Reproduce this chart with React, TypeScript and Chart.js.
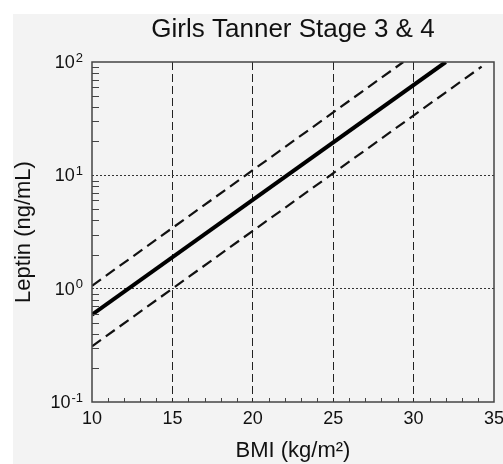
import React, { useEffect, useRef } from 'react';
import { Chart, registerables } from 'chart.js';

Chart.register(...registerables);

const FONT = "'Liberation Sans', Arial, Helvetica, sans-serif";

const TITLE = 'Girls Tanner Stage 3 & 4';
const X_TITLE = 'BMI (kg/m²)';
const Y_TITLE = 'Leptin (ng/mL)';

const xTickValues = [10, 15, 20, 25, 30, 35];
const xGridValues = [15, 20, 25, 30];
const yTickExponents = [-1, 0, 1, 2];
const yGridValues = [1, 10];

const meanBMI = [10, 32.0];
const meanLeptin = [0.59, 100];
const upperBMI = [10, 29.36];
const upperLeptin = [1.06, 100];
const lowerBMI = [10, 34.23];
const lowerLeptin = [0.31, 91];

const toPoints = (xs: number[], ys: number[]) => xs.map((x, i) => ({ x, y: ys[i] }));

const decorPlugin = {
  id: 'decor',
  beforeDraw(chart: any) {
    const { ctx, width, height } = chart;
    ctx.save();
    ctx.fillStyle = '#ffffff';
    ctx.fillRect(0, 0, width, height);
    ctx.fillStyle = '#f3f3f3';
    ctx.fillRect(13, 14, width - 13, height - 14);
    ctx.restore();
  },
  afterDraw(chart: any) {
    const { ctx, chartArea } = chart;
    const { left, right, top, bottom } = chartArea;
    const xs = chart.scales.x;
    const ys = chart.scales.y;
    ctx.save();
    ctx.strokeStyle = '#444';
    ctx.lineWidth = 1;
    for (let k = -1; k <= 1; k++) {
      for (let m = 2; m <= 9; m++) {
        const py = Math.round(ys.getPixelForValue(m * Math.pow(10, k))) + 0.5;
        ctx.beginPath();
        ctx.moveTo(left, py);
        ctx.lineTo(left + 7, py);
        ctx.stroke();
      }
    }
    for (let v = 11; v <= 34; v++) {
      if (v % 5 === 0) continue;
      const px = Math.round(xs.getPixelForValue(v)) + 0.5;
      ctx.beginPath();
      ctx.moveTo(px, bottom);
      ctx.lineTo(px, bottom - 4);
      ctx.stroke();
    }
    ctx.strokeStyle = '#444';
    ctx.lineWidth = 1.5;
    ctx.strokeRect(left, top, right - left, bottom - top);
    ctx.fillStyle = '#111';
    ctx.textBaseline = 'middle';
    const rightEdge = left - 9;
    yTickExponents.forEach((e) => {
      const py = ys.getPixelForValue(Math.pow(10, e));
      const exp = String(e);
      ctx.font = `13px ${FONT}`;
      const ew = ctx.measureText(exp).width;
      ctx.font = `18px ${FONT}`;
      const bw = ctx.measureText('10').width;
      const x0 = rightEdge - ew - bw - 1;
      ctx.textAlign = 'left';
      ctx.fillText('10', x0, py + 1);
      ctx.font = `13px ${FONT}`;
      ctx.fillText(exp, x0 + bw + 1, py - 4);
    });
    ctx.restore();
  },
};

export default function App() {
  const ref = useRef<HTMLCanvasElement | null>(null);

  useEffect(() => {
    document.body.style.margin = '0';
    const canvas = ref.current;
    if (!canvas) return;
    const transparent = 'rgba(0,0,0,0)';
    const chart = new Chart(canvas, {
      type: 'line',
      data: {
        datasets: [
          {
            label: 'Upper',
            data: toPoints(upperBMI, upperLeptin),
            borderColor: '#111',
            borderWidth: 2.2,
            borderDash: [11, 6],
            pointRadius: 0,
            fill: false,
          },
          {
            label: 'Lower',
            data: toPoints(lowerBMI, lowerLeptin),
            borderColor: '#111',
            borderWidth: 2.2,
            borderDash: [11, 6],
            pointRadius: 0,
            fill: false,
          },
          {
            label: 'Mean',
            data: toPoints(meanBMI, meanLeptin),
            borderColor: '#000',
            borderWidth: 4,
            pointRadius: 0,
            fill: false,
          },
        ],
      },
      plugins: [decorPlugin],
      options: {
        animation: false,
        responsive: false,
        devicePixelRatio: 1,
        layout: { padding: { left: 0, right: 9, top: 0, bottom: 0 } },
        plugins: {
          legend: { display: false },
          tooltip: { enabled: false },
          title: {
            display: true,
            text: TITLE,
            fullSize: false,
            color: '#111',
            font: { family: FONT, size: 26, weight: 'normal' },
            padding: { top: 14.4, bottom: 16.4 },
          },
        },
        scales: {
          x: {
            type: 'linear',
            min: 10,
            max: 35,
            afterBuildTicks: (s: any) => {
              s.ticks = xTickValues.map((v) => ({ value: v }));
            },
            ticks: {
              color: '#111',
              font: { family: FONT, size: 18 },
              padding: 6.7,
              maxRotation: 0,
              autoSkip: false,
              callback: (v: any) => String(v),
            },
            grid: {
              color: (c: any) => (c.tick && xGridValues.includes(c.tick.value) ? '#222' : transparent),
              lineWidth: 1,
              drawTicks: false,
            },
            border: { display: false, dash: [8, 4] },
            title: {
              display: true,
              text: X_TITLE,
              color: '#111',
              font: { family: FONT, size: 22 },
              padding: { top: 0, bottom: 0 },
            },
            afterFit: (s: any) => {
              s.height = 62;
              s.paddingLeft = 0;
              s.paddingRight = 0;
            },
          },
          y: {
            type: 'logarithmic',
            min: 0.1,
            max: 100,
            ticks: { display: false },
            grid: {
              color: (c: any) =>
                c.tick && yGridValues.some((g) => Math.abs(c.tick.value - g) < 1e-6) ? '#333' : transparent,
              lineWidth: 1,
              drawTicks: false,
            },
            border: { display: false, dash: [2, 2] },
            title: {
              display: true,
              text: Y_TITLE,
              color: '#111',
              font: { family: FONT, size: 22 },
              padding: { top: 10.8, bottom: 0 },
            },
            afterFit: (s: any) => {
              s.width = 92;
              s.paddingTop = 0;
              s.paddingBottom = 0;
            },
          },
        },
      } as any,
    });
    return () => chart.destroy();
  }, []);

  return (
    <div style={{ width: 503, height: 464 }}>
      <canvas ref={ref} width={503} height={464} style={{ display: 'block' }} />
    </div>
  );
}
